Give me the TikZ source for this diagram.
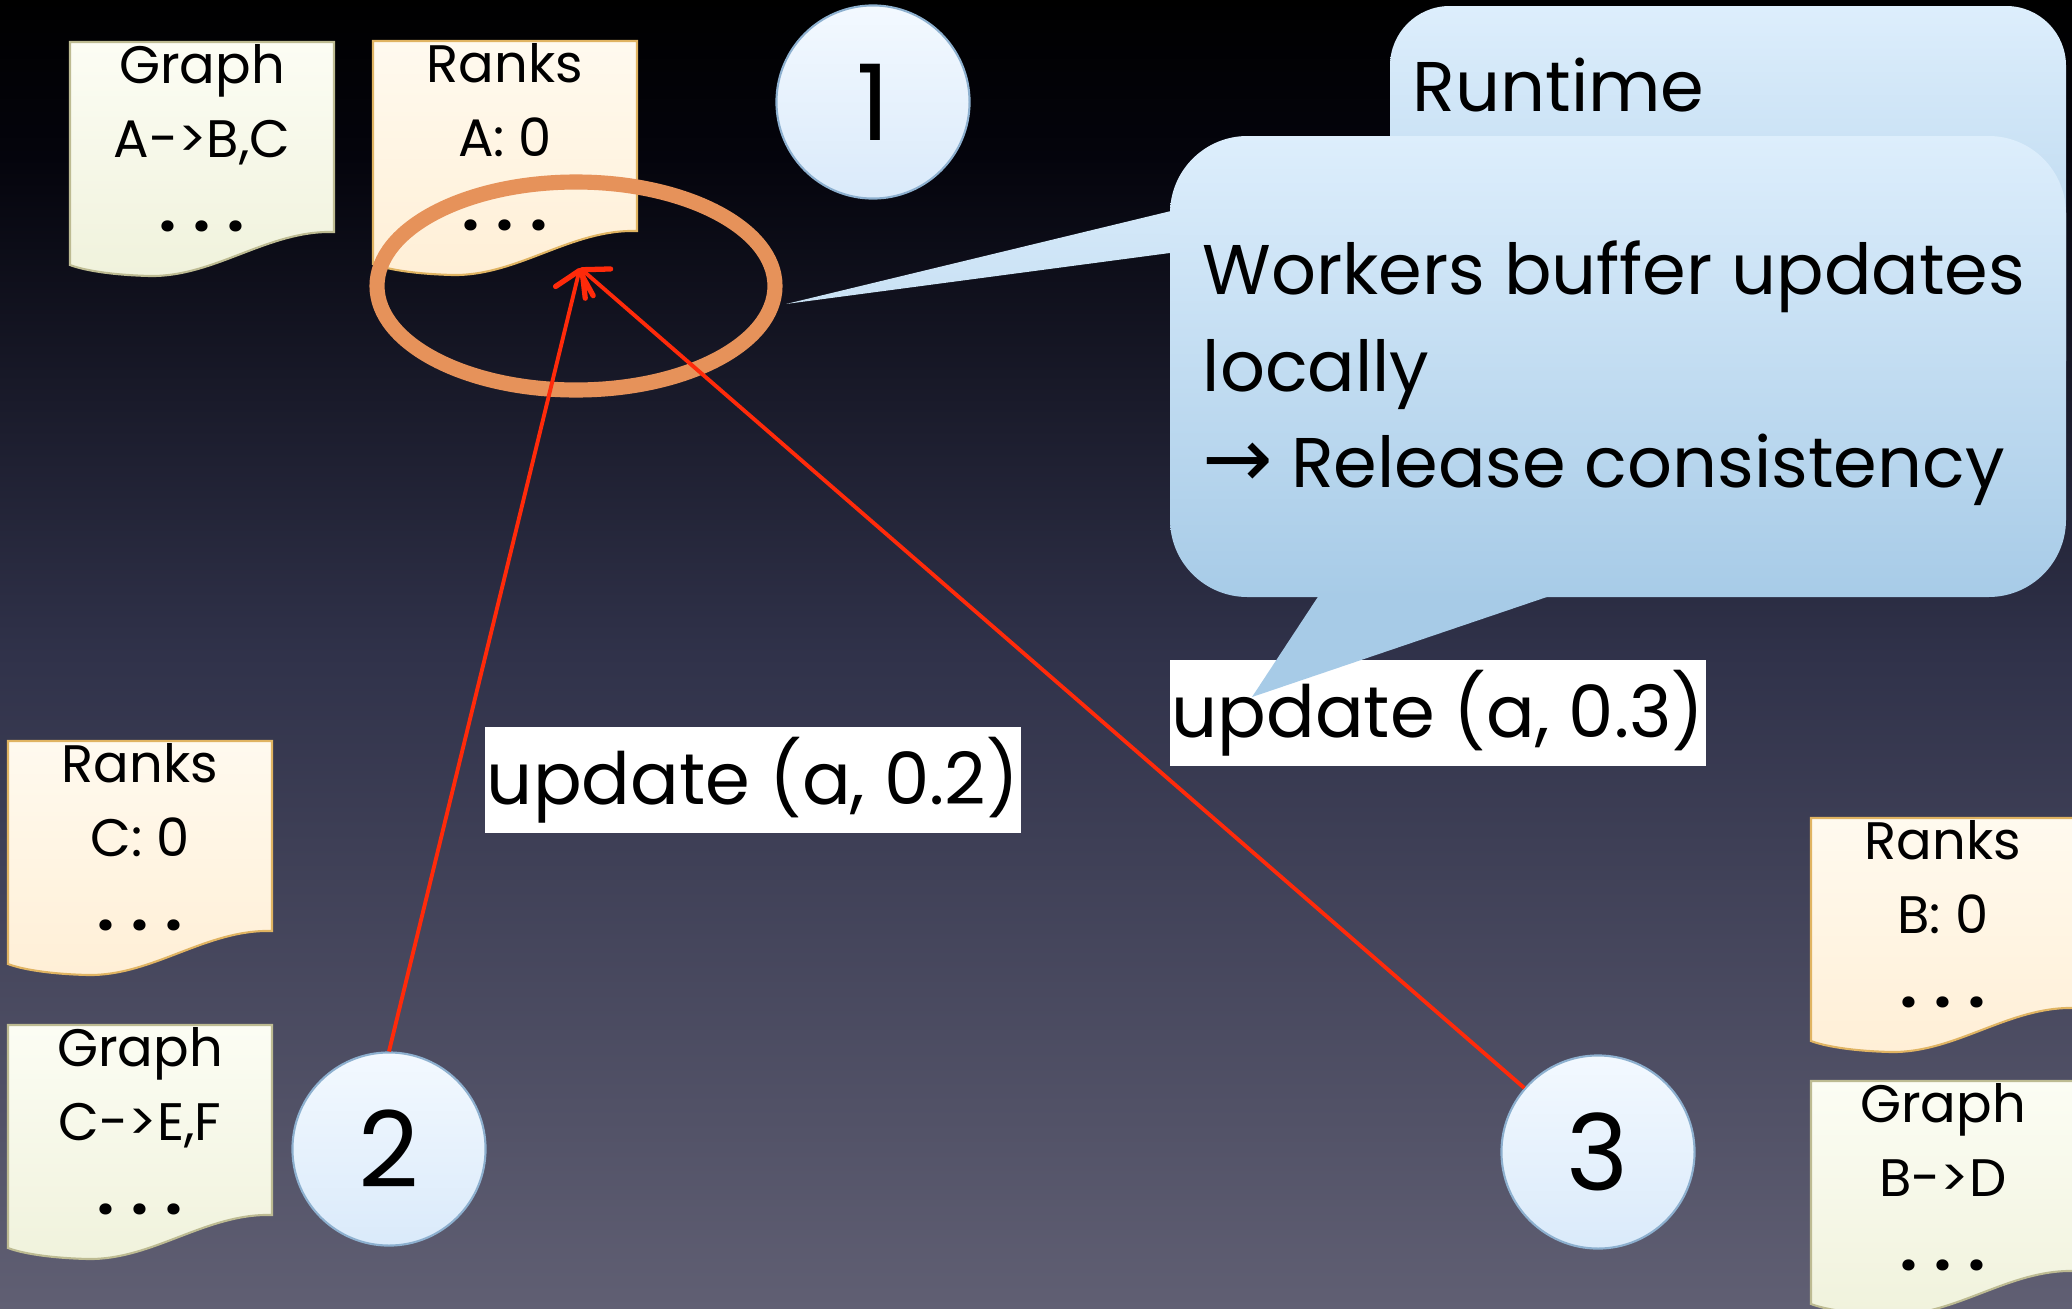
\documentclass[tikz,border=0pt]{standalone}
\usepackage{fontspec}
\setmainfont{Poppins}
\newfontfamily\arrowfont{DejaVu Sans}
\usetikzlibrary{arrows.meta}

\definecolor{bgbot}{HTML}{605F73}
\definecolor{bgmid}{HTML}{30324A}
\definecolor{bgtop}{HTML}{04040C}
\definecolor{balltop}{HTML}{F3F9FF}
\definecolor{ballbot}{HTML}{DAEAFA}
\definecolor{ballrim}{HTML}{8DB0CF}
\definecolor{graphtop}{HTML}{FCFDF4}
\definecolor{graphbot}{HTML}{F0F2DC}
\definecolor{graphrim}{HTML}{BDBB92}
\definecolor{rankstop}{HTML}{FFFAEF}
\definecolor{ranksbot}{HTML}{FFEFD6}
\definecolor{ranksrim}{HTML}{E0B462}
\definecolor{bubtop}{HTML}{DDEEFC}
\definecolor{bubbot}{HTML}{A7CBE7}
\definecolor{ringorange}{HTML}{E6925A}
\definecolor{updred}{HTML}{FF2A0A}

\pgfdeclareverticalshading{slidebg}{100bp}{color(0bp)=(bgbot); color(25bp)=(bgbot);
  color(50bp)=(bgmid); color(69bp)=(bgtop); color(75bp)=(black); color(100bp)=(black)}

\tikzset{
  numball/.style={circle,draw=ballrim,line width=0.6pt,top color=balltop,bottom color=ballbot,
    minimum size=1.93cm,inner sep=0pt,font=\fontsize{30}{30}\selectfont},
  graphsheet/.style={draw=graphrim,line width=0.6pt,top color=graphtop,bottom color=graphbot},
  rankssheet/.style={draw=ranksrim,line width=0.6pt,top color=rankstop,bottom color=ranksbot},
  sheettext/.style={anchor=north,align=center,inner sep=0pt,font=\fontsize{15}{21}\selectfont},
  updbox/.style={fill=white,minimum width=5.36cm,minimum height=1.05cm,inner sep=0pt,
    font=\fontsize{20.5}{24}\selectfont},
  upd/.style={draw=updred,line width=1.1pt,
    -{Straight Barb[round,length=6pt,width=11pt,line width=1.5pt]}},
  bubble/.style={top color=bubtop,bottom color=bubbot},
}

% one sheet of paper with a wavy lower edge
\newcommand{\docsheet}[5]{%
  \begin{scope}[shift={#1}]
    \draw[#2] (0,0) -- (264,0) -- (264,190)
      .. controls (198,188) and (145,235) .. (80,234)
      .. controls (40,233) and (13,228) .. (0,223) -- cycle;
    \node[sheettext] (#3) at (132,2)
      {#4\\#5\\{\fontsize{17}{21}\bfseries .\hspace{0.28em}.\hspace{0.28em}.}};
  \end{scope}}

\begin{document}
\begin{tikzpicture}[x=0.01cm,y=-0.01cm]
  \useasboundingbox (0,0) rectangle (2072,1309);
  \shade[shading=slidebg] (0,0) rectangle (2072,1309);

  % worker 1
  \docsheet{(70,42)}{graphsheet}{graphA}{Graph}{A->B,C}
  \docsheet{(373,41)}{rankssheet}{ranksA}{Ranks}{A: 0}
  \node[numball] (w1) at (873,102) {1};

  % worker 2
  \docsheet{(8,741)}{rankssheet}{ranksC}{Ranks}{C: 0}
  \docsheet{(8,1025)}{graphsheet}{graphC}{Graph}{C->E,F}
  \node[numball] (w2) at (389,1149) {2};

  % worker 3
  \docsheet{(1811,818)}{rankssheet}{ranksB}{Ranks}{B: 0}
  \docsheet{(1811,1081)}{graphsheet}{graphB}{Graph}{B->D}
  \node[numball] (w3) at (1598,1152) {3};

  % runtime
  \draw[bubble,draw=none,rounded corners=17pt] (1390,6) rectangle (2066,420);
  \node[anchor=base west,inner sep=0pt,font=\fontsize{20}{24}\selectfont] (runtime) at (1412,111) {Runtime};

  \node[updbox] (upd3) at (1438,713) {update (a, 0.3)};
  \node[updbox] (upd2) at (753,780) {update (a, 0.2)};

  % callout
  \fill[top color=bubbot!15!bubtop,bottom color=bubbot!37!bubtop] (1200,204) -- (786,304) -- (1200,249) -- cycle;
  \fill[bubbot] (1329,580) -- (1252,697) -- (1597,580) -- cycle;
  \shade[bubble,rounded corners=22pt] (1170,136) rectangle (2066,597);
  \node[anchor=north west,align=left,inner sep=0pt,font=\fontsize{20}{27.5}\selectfont] (note)
    at (1202,240) {Workers buffer updates\\locally\\{\arrowfont\fontsize{24}{27.5}\selectfont →}\hspace{0.25em}Release consistency};

  \draw[ringorange,line width=4.3pt] (576,286) ellipse [x radius=199,y radius=104];

  \coordinate (tip) at (580,268);
  \draw[upd] (w2.north) -- (tip);
  \draw[upd] (w3) -- (tip);
\end{tikzpicture}
\end{document}
